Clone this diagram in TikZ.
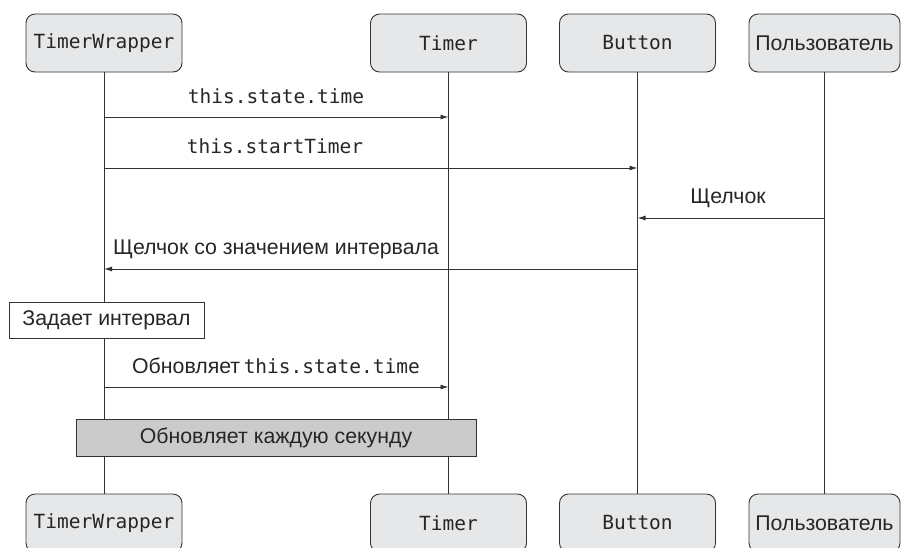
\documentclass[tikz,border=0pt]{standalone}
\usepackage{fontspec}
\setmainfont{Liberation Sans}
\setmonofont{DejaVu Sans Mono}
\usetikzlibrary{arrows.meta}
\definecolor{boxfill}{HTML}{E6E7E8}
\definecolor{notefill}{HTML}{CBCBCB}
\definecolor{linecol}{HTML}{333333}
\newcommand{\sfz}{\fontsize{21.3}{24}\selectfont}
\newcommand{\mfz}{\fontsize{19.5}{22}\selectfont\ttfamily}
\begin{document}
\begin{tikzpicture}[x=1pt,y=-1pt,
  actor/.style={draw=linecol,line width=0.9pt,fill=boxfill,rounded corners=9pt,
    minimum width=156pt,minimum height=58pt,inner sep=0pt,text=black!85},
  life/.style={draw=linecol,line width=0.9pt},
  msg/.style={draw=linecol,line width=0.9pt,-{Latex[length=8pt,width=5pt]}},
  lbl/.style={anchor=base,inner sep=0pt,font=\sfz,text=black!85},
  mlbl/.style={lbl,font=\mfz},
  note/.style={draw=linecol,line width=0.9pt,inner sep=0pt,font=\sfz,text=black!85}]
\useasboundingbox (0,0) rectangle (901,547);
\fill[white] (0,0) rectangle (901,547);
% actors top
\node[actor,font=\mfz] (tw) at (104,43) {TimerWrapper};
\node[actor,font=\mfz] (tm) at (448.5,43) {Timer};
\node[actor,font=\mfz] (bt) at (637.5,43) {Button};
\node[actor,font=\sfz,minimum width=151pt] (us) at (824.5,43) {Пользователь};
% actors bottom
\node[actor,font=\mfz] (tw2) at (104,523) {TimerWrapper};
\node[actor,font=\mfz] (tm2) at (448.5,523) {Timer};
\node[actor,font=\mfz] (bt2) at (637.5,523) {Button};
\node[actor,font=\sfz,minimum width=151pt] (us2) at (824.5,523) {Пользователь};
% lifelines
\draw[life] (tw.south) -- (tw2.north);
\draw[life] (tm.south) -- (tm2.north);
\draw[life] (bt.south) -- (bt2.north);
\draw[life] (us.south) -- (us2.north);
% messages
\draw[msg] (tw.south |- 0,117) -- (tm.south |- 0,117);
\node[mlbl] (l1) at (276,103) {this.state.time};
\draw[msg] (tw.south |- 0,168) -- (bt.south |- 0,168);
\node[mlbl] (l2) at (275,153) {this.startTimer};
\draw[msg] (us.south |- 0,218) -- (bt.south |- 0,218);
\node[lbl] (l3) at (728,203) {Щелчок};
\draw[msg] (bt.south |- 0,269) -- (tw.south |- 0,269);
\node[lbl] (l4) at (276,254) {Щелчок со значением интервала};
% self note
\node[note,fill=white,minimum width=195pt,minimum height=36pt] (n1) at (106.5,320) {Задает интервал};
\draw[msg] (tw.south |- 0,387) -- (tm.south |- 0,387);
\node[lbl] (l5) at (276,373) {Обновляет\,{\mfz this.state.time}};
\node[note,fill=notefill,minimum width=400pt,minimum height=37pt] (n2) at (276,437.5) {Обновляет каждую секунду};
\end{tikzpicture}
\end{document}
